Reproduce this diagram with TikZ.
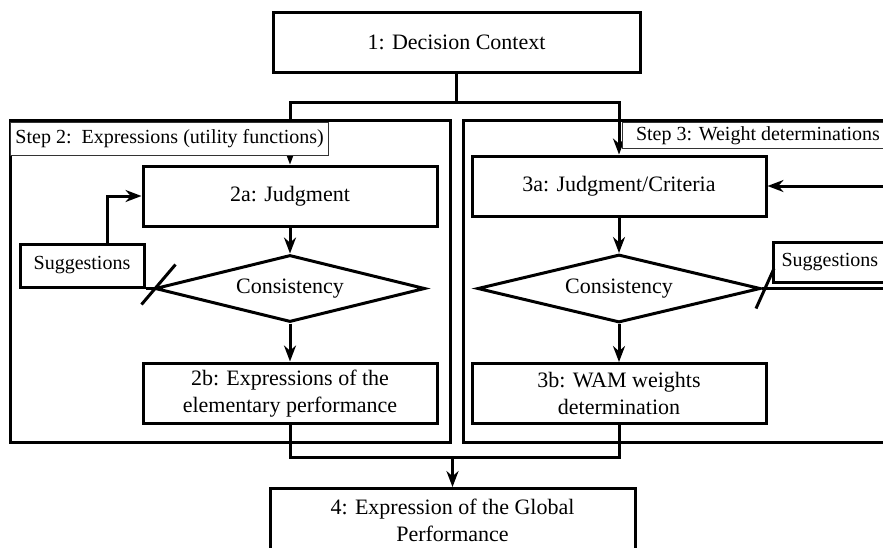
\documentclass[tikz,border=0pt]{standalone}
\usepackage{fontspec}
\setmainfont{Liberation Serif}
\usetikzlibrary{shapes.geometric, arrows.meta, positioning}
\tikzstyle{stage}     = [rectangle, minimum width=147pt, minimum height=30pt, text centered, align=center,
                         draw=black, line width=1.5pt, font=\fontsize{11}{13.5}\selectfont]
\tikzstyle{decision}  = [diamond, aspect=4, minimum width=135pt, minimum height=33.5pt, inner sep=0pt,
                         text centered, draw=black, line width=1.5pt, font=\fontsize{11}{13.5}\selectfont]
\tikzstyle{note}      = [rectangle, minimum width=62pt, minimum height=21.5pt, text centered,
                         draw=black, line width=1.5pt, font=\fontsize{10}{12}\selectfont]
\tikzstyle{stepframe} = [rectangle, minimum width=220pt, minimum height=161pt, draw=black, line width=1.5pt]
\tikzstyle{steplabel} = [rectangle, anchor=north west, inner xsep=2.5pt, inner ysep=1pt, draw=black!80,
                         line width=0.5pt, fill=white, font=\fontsize{10}{12}\selectfont]
\tikzstyle{arrow}     = [-{Stealth[length=8pt, width=6pt]}, line width=1.5pt]
\tikzstyle{link}      = [line width=1.5pt]

\begin{document}
\begin{tikzpicture}
    \useasboundingbox (0,0) rectangle (441.5pt,-273.5pt);

    % Step frames
    \node (fr2) [stepframe] at (115pt,-140.5pt) {};
    \node (fr3) [stepframe] at (341.5pt,-140.5pt) {};

    % Context on top
    \node (dec) [stage, minimum width=183.5pt] at (228.25pt,-21pt) {1: Decision Context};

    % Step 2 (left column)
    \node (j2) [stage, below=45.5pt of dec, xshift=-83.25pt] {2a: Judgment};
    \node (cons2) [decision, below=13pt of j2] {Consistency};
    \node (e2) [stage, below=19pt of cons2] {2b: Expressions of the\\elementary performance};
    \node (sug2) [note, anchor=south east] at ([xshift=-4pt]cons2.west) {Suggestions};

    % Step 3 (right column)
    \node (j3) [stage, right=16pt of j2, yshift=5pt] {3a: Judgment/Criteria};
    \node (cons3) [decision, below=17.75pt of j3, minimum width=141.5pt, minimum height=34pt] {Consistency};
    \node (w3) [stage, below=19pt of cons3] {3b: WAM weights\\determination};
    \node (sug3) [note, anchor=south west, minimum width=0pt, minimum height=20pt, inner xsep=4pt] at ([shift={(5pt,2.5pt)}]cons3.east) {Suggestions};

    % Output
    \node (glob) [stage, below=31pt of e2, xshift=81.25pt, minimum width=182.5pt, minimum height=32pt] {4: Expression of the Global\\Performance};

    % Split to both steps
    \coordinate (split) at ([yshift=-14.5pt]dec.south);
    \draw[link] (dec.south) -- (split);
    \draw[arrow] (split) -| (j2.north);
    \draw[arrow] (split) -| (j3.north);

    % Step 2 arrows
    \draw[arrow] (j2) -- (cons2);
    \draw[arrow] (cons2) -- (e2);
    \draw[link] (cons2.west) -- (sug2.south east);
    \draw[link] ([shift={(-6pt,-8pt)}]cons2.west) -- ([shift={(11pt,12pt)}]cons2.west);
    \draw[arrow] ([xshift=12.5pt]sug2.north) |- (j2.west);

    % Step 3 arrows
    \draw[arrow] (j3) -- (cons3);
    \draw[arrow] (cons3) -- (w3);
    \draw[link] (cons3.east) -- (cons3.east -| sug3.east);
    \draw[link] ([shift={(-3pt,-10pt)}]cons3.east) -- ([shift={(6pt,10pt)}]cons3.east);
    \draw[arrow] (sug3.east) -- ++(8pt,0) |- (j3.east);

    % Merge into output
    \coordinate (merge) at ([yshift=15pt]glob.north);
    \draw[link] (e2.south) |- (merge) -| (w3.south);
    \draw[arrow] (merge) -- (glob);

    % Step labels
    \node (lab2) [steplabel, minimum height=16.5pt] at ([shift={(0.75pt,-1.75pt)}]fr2.north west) {Step 2:\ \ Expressions (utility functions)};
    \node (lab3) [steplabel, minimum height=13pt, inner xsep=7pt] at ([shift={(80pt,-1.75pt)}]fr3.north west) {Step 3: Weight determinations};
\end{tikzpicture}
\end{document}
